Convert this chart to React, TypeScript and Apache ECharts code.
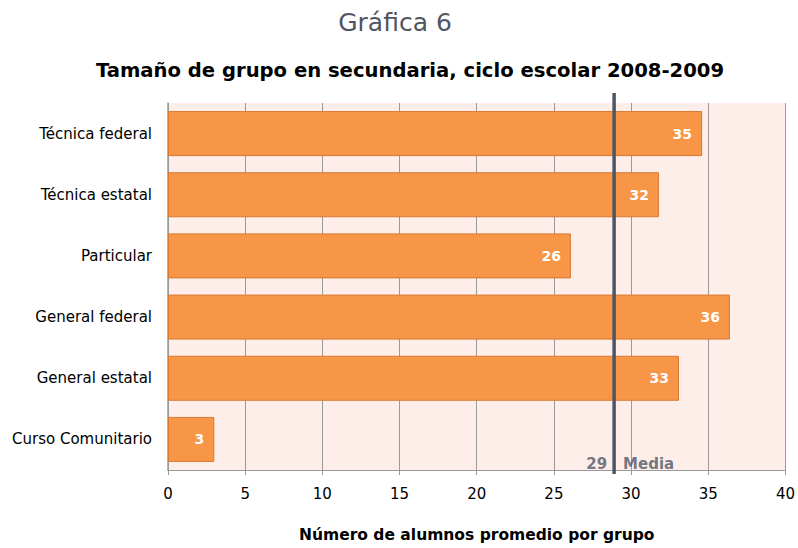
import React, { useEffect, useRef } from "react";
import * as echarts from "echarts";

const categories = [
  "Técnica federal",
  "Técnica estatal",
  "Particular",
  "General federal",
  "General estatal",
  "Curso Comunitario",
];
const values = [34.6, 31.8, 26.1, 36.4, 33.1, 3.0];
const valueLabels = ["35", "32", "26", "36", "33", "3"];
const mediaValue = 28.9;
const mediaLabel = "29";
const xTicks = [0, 5, 10, 15, 20, 25, 30, 35, 40];

const FONT = "'DejaVu Sans', sans-serif";

export default function App() {
  const ref = useRef<HTMLDivElement>(null);
  useEffect(() => {
    document.body.style.margin = "0";
    if (!ref.current) return;
    const chart = echarts.init(ref.current, undefined, { renderer: "svg" });
    chart.setOption({
      animation: false,
      textStyle: { fontFamily: FONT },
      title: [
        {
          text: "Gráfica 6",
          left: 390,
          textAlign: "center",
          top: 5,
          textStyle: { fontFamily: FONT, fontSize: 25, fontWeight: "normal", color: "#4F5562" },
        },
        {
          text: "Tamaño de grupo en secundaria, ciclo escolar 2008-2009",
          left: 405,
          textAlign: "center",
          top: 55,
          textStyle: { fontFamily: FONT, fontSize: 19.6, fontWeight: "bold", color: "#000" },
        },
      ],
      grid: {
        left: 168,
        right: 12,
        top: 103,
        bottom: 75,
        show: true,
        backgroundColor: "#FDEEE9",
        borderWidth: 0,
      },
      xAxis: {
        type: "value",
        min: xTicks[0],
        max: xTicks[xTicks.length - 1],
        interval: 5,
        name: "Número de alumnos promedio por grupo",
        nameLocation: "middle",
        nameGap: 57,
        nameTextStyle: { fontFamily: FONT, fontSize: 15.5, fontWeight: "bold", color: "#000" },
        axisLine: { show: true, lineStyle: { color: "#9a9a9a", width: 1 } },
        axisTick: { show: true, length: 5, lineStyle: { color: "#9a9a9a" } },
        axisLabel: { fontFamily: FONT, fontSize: 15, color: "#000", margin: 16 },
        splitLine: { show: true, lineStyle: { color: "#9a9a9a", width: 1 } },
      },
      yAxis: [
        {
          type: "category",
          data: categories,
          inverse: true,
          axisLine: { show: true, lineStyle: { color: "#9a9a9a", width: 1.5 } },
          axisTick: { show: false },
          axisLabel: { fontFamily: FONT, fontSize: 15, color: "#000", margin: 16 },
          splitLine: { show: false },
        },
        {
          type: "value",
          min: 0,
          max: 1,
          show: false,
        },
      ],
      series: [
        {
          type: "bar",
          data: values,
          barWidth: 45,
          z: 2,
          itemStyle: { color: "#F79646", borderColor: "#D9782F", borderWidth: 1 },
          label: {
            show: true,
            position: "insideRight",
            distance: 10,
            formatter: (p: any) => valueLabels[p.dataIndex],
            fontFamily: FONT,
            fontSize: 14,
            fontWeight: "bold",
            color: "#fff",
          },
        },
        {
          type: "line",
          yAxisIndex: 1,
          data: [
            [mediaValue, -0.011],
            [mediaValue, 1.027],
          ],
          clip: false,
          symbol: "none",
          z: 5,
          lineStyle: { color: "#4D5666", width: 3.5 },
        },
        {
          type: "scatter",
          yAxisIndex: 1,
          symbolSize: 0,
          clip: false,
          z: 6,
          data: [[mediaValue, 0.016]],
          label: {
            show: true,
            position: "left",
            distance: 7,
            formatter: mediaLabel,
            fontFamily: FONT,
            fontSize: 15,
            fontWeight: "bold",
            color: "#4D5666",
          },
        },
        {
          type: "scatter",
          yAxisIndex: 1,
          symbolSize: 0,
          clip: false,
          z: 6,
          data: [[mediaValue, 0.016]],
          label: {
            show: true,
            position: "right",
            distance: 9,
            formatter: "Media",
            fontFamily: FONT,
            fontSize: 15,
            fontWeight: "bold",
            color: "#4D5666",
          },
        },
      ],
    });
    return () => chart.dispose();
  }, []);
  return <div ref={ref} style={{ width: 798, height: 548 }} />;
}
